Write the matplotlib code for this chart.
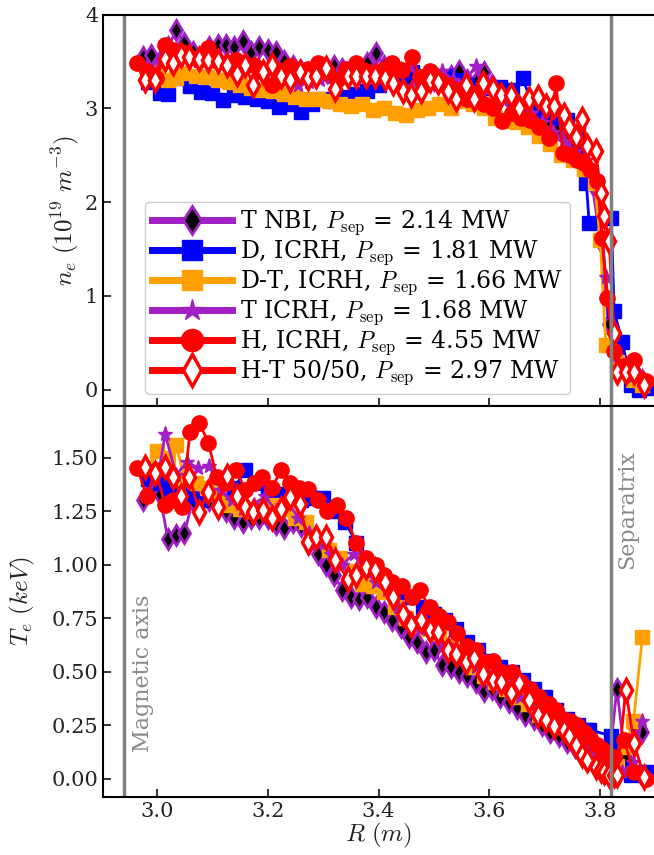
import matplotlib
matplotlib.use('Agg')
import matplotlib.pyplot as plt

plt.rcParams['font.family'] = 'DejaVu Serif'
plt.rcParams['mathtext.fontset'] = 'cm'

# T NBI
r_tnbi = [2.975, 2.99, 3.005, 3.02, 3.035, 3.05, 3.065, 3.08, 3.095, 3.11, 3.125, 3.14, 3.155, 3.17,
          3.185, 3.20, 3.215, 3.23, 3.245, 3.26, 3.275, 3.29, 3.305, 3.32, 3.335, 3.35, 3.365, 3.38,
          3.395, 3.41, 3.425, 3.44, 3.455, 3.47, 3.485, 3.50, 3.515, 3.53, 3.545, 3.56, 3.575, 3.59,
          3.605, 3.62, 3.635, 3.65, 3.665, 3.68, 3.695, 3.71, 3.725, 3.74, 3.755, 3.77, 3.785, 3.80,
          3.815, 3.83, 3.845, 3.86, 3.875]
ne_tnbi = [3.55, 3.57, 3.50, 3.65, 3.83, 3.70, 3.60, 3.55, 3.65, 3.68, 3.67, 3.65, 3.72, 3.60, 3.65,
           3.62, 3.60, 3.50, 3.45, 3.40, 3.35, 3.38, 3.40, 3.45, 3.42, 3.40, 3.38, 3.48, 3.59, 3.45,
           3.40, 3.38, 3.35, 3.32, 3.35, 3.30, 3.30, 3.35, 3.40, 3.30, 3.28, 3.39, 3.25, 3.15, 3.10,
           3.05, 3.00, 2.95, 2.90, 2.85, 2.80, 2.70, 2.60, 2.45, 2.20, 1.60, 0.70, 0.40, 0.25, 0.15, 0.10]
te_tnbi = [1.30, 1.35, 1.33, 1.12, 1.14, 1.15, 1.30, 1.32, 1.30, 1.28, 1.25, 1.22, 1.20, 1.22, 1.22,
           1.22, 1.19, 1.17, 1.20, 1.18, 1.10, 1.05, 1.00, 0.95, 0.88, 0.85, 0.84, 0.85, 0.80, 0.78,
           0.74, 0.71, 0.66, 0.64, 0.59, 0.60, 0.53, 0.52, 0.50, 0.48, 0.45, 0.41, 0.42, 0.38, 0.36,
           0.33, 0.30, 0.28, 0.25, 0.22, 0.20, 0.17, 0.15, 0.12, 0.10, 0.07, 0.05, 0.42, 0.10, 0.25, 0.22]

# D, ICRH
r_d = [2.985, 3.005, 3.02, 3.04, 3.06, 3.08, 3.10, 3.12, 3.14, 3.16, 3.18, 3.20, 3.22, 3.24, 3.26,
       3.28, 3.30, 3.32, 3.34, 3.36, 3.38, 3.40, 3.42, 3.44, 3.46, 3.48, 3.50, 3.52, 3.54, 3.56,
       3.58, 3.60, 3.62, 3.64, 3.66, 3.68, 3.70, 3.72, 3.74, 3.76, 3.775, 3.78, 3.82, 3.825, 3.84,
       3.855, 3.87, 3.885]
ne_d = [3.28, 3.16, 3.15, 3.32, 3.24, 3.17, 3.16, 3.09, 3.14, 3.12, 3.10, 3.08, 3.01, 3.05, 2.96,
        3.05, 3.10, 3.08, 3.12, 3.15, 3.18, 3.25, 3.30, 3.35, 3.39, 3.33, 3.30, 3.35, 3.30, 3.25,
        3.20, 3.22, 3.23, 3.20, 3.32, 3.00, 2.95, 2.90, 2.88, 2.75, 2.20, 1.78, 1.83, 0.84, 0.51,
        0.05, 0.00, 0.02]
te_d = [1.40, 1.38, 1.36, 1.33, 1.32, 1.30, 1.33, 1.30, 1.36, 1.44, 1.38, 1.35, 1.33, 1.32, 1.30,
        1.31, 1.31, 1.25, 1.20, 1.10, 1.00, 0.95, 0.90, 0.87, 0.85, 0.80, 0.77, 0.74, 0.70, 0.64,
        0.60, 0.55, 0.52, 0.50, 0.46, 0.42, 0.38, 0.32, 0.28, 0.25, 0.23, 0.23, 0.20, 0.15, 0.05,
        0.02, 0.03, 0.03]

# D-T, ICRH
r_dt = [2.985, 3.00, 3.02, 3.035, 3.05, 3.07, 3.09, 3.11, 3.13, 3.15, 3.17, 3.19, 3.21, 3.23, 3.25,
        3.27, 3.29, 3.31, 3.33, 3.35, 3.37, 3.39, 3.41, 3.43, 3.45, 3.47, 3.49, 3.51, 3.53, 3.55,
        3.57, 3.59, 3.61, 3.63, 3.65, 3.67, 3.69, 3.71, 3.73, 3.75, 3.77, 3.79, 3.80, 3.81, 3.83,
        3.845, 3.86, 3.876]
ne_dt = [3.35, 3.40, 3.30, 3.32, 3.38, 3.35, 3.33, 3.30, 3.28, 3.25, 3.22, 3.20, 3.18, 3.15, 3.12,
         3.10, 3.10, 3.08, 3.05, 3.02, 3.05, 2.98, 3.00, 2.95, 2.93, 2.98, 3.00, 3.05, 3.00, 3.08,
         3.05, 3.00, 2.90, 2.87, 2.85, 2.80, 2.70, 2.62, 2.50, 2.45, 2.35, 2.20, 1.60, 0.48, 0.30,
         0.20, 0.10, 0.05]
te_dt = [1.45, 1.53, 1.50, 1.56, 1.40, 1.38, 1.36, 1.33, 1.28, 1.26, 1.25, 1.27, 1.28, 1.26, 1.22,
         1.20, 1.12, 1.07, 1.03, 0.97, 0.91, 0.90, 0.87, 0.80, 0.75, 0.72, 0.70, 0.68, 0.62, 0.58,
         0.52, 0.48, 0.45, 0.42, 0.38, 0.35, 0.30, 0.27, 0.24, 0.20, 0.15, 0.10, 0.07, 0.04, 0.06,
         0.15, 0.27, 0.66]

# T ICRH
r_ticrh = [2.985, 3.005, 3.015, 3.035, 3.055, 3.075, 3.095, 3.115, 3.135, 3.155, 3.175, 3.195, 3.215,
           3.235, 3.255, 3.275, 3.295, 3.315, 3.335, 3.355, 3.375, 3.395, 3.415, 3.435, 3.455, 3.475,
           3.495, 3.515, 3.535, 3.555, 3.575, 3.595, 3.615, 3.635, 3.655, 3.675, 3.695, 3.715, 3.735,
           3.755, 3.775, 3.795, 3.81, 3.825, 3.84, 3.86, 3.875]
ne_ticrh = [3.45, 3.50, 3.55, 3.60, 3.55, 3.50, 3.58, 3.52, 3.50, 3.48, 3.45, 3.40, 3.35, 3.30, 3.25,
            3.28, 3.30, 3.32, 3.35, 3.38, 3.35, 3.40, 3.42, 3.40, 3.45, 3.35, 3.38, 3.40, 3.30, 3.28,
            3.45, 3.20, 3.15, 3.10, 3.05, 2.95, 2.85, 2.75, 2.65, 2.55, 2.45, 2.25, 1.20, 0.35, 0.20,
            0.15, 0.10]
te_ticrh = [1.32, 1.45, 1.61, 1.42, 1.48, 1.45, 1.46, 1.35, 1.30, 1.26, 1.28, 1.32, 1.25, 1.30, 1.22,
            1.15, 1.10, 1.05, 1.00, 1.05, 0.97, 0.92, 0.88, 0.80, 0.75, 0.70, 0.68, 0.62, 0.60, 0.57,
            0.52, 0.50, 0.46, 0.43, 0.38, 0.34, 0.30, 0.27, 0.23, 0.19, 0.15, 0.10, 0.06, 0.04, 0.03,
            0.08, 0.27]

# H, ICRH
r_h = [2.965, 2.982, 2.998, 3.015, 3.03, 3.045, 3.06, 3.077, 3.093, 3.108, 3.125, 3.143, 3.16, 3.175,
       3.19, 3.207, 3.225, 3.24, 3.257, 3.273, 3.29, 3.307, 3.325, 3.342, 3.36, 3.378, 3.395, 3.41,
       3.425, 3.443, 3.46, 3.475, 3.492, 3.51, 3.525, 3.542, 3.56, 3.575, 3.59, 3.607, 3.623, 3.64,
       3.657, 3.673, 3.69, 3.708, 3.72, 3.733, 3.745, 3.758, 3.77, 3.782, 3.795, 3.803, 3.813, 3.825,
       3.843, 3.861, 3.883]
ne_h = [3.48, 3.40, 3.32, 3.68, 3.62, 3.60, 3.55, 3.52, 3.64, 3.50, 3.48, 3.52, 3.45, 3.46, 3.40,
        3.25, 3.40, 3.45, 3.38, 3.42, 3.48, 3.40, 3.30, 3.42, 3.48, 3.40, 3.38, 3.42, 3.48, 3.41,
        3.55, 3.33, 3.40, 3.30, 3.25, 3.20, 3.10, 3.15, 3.05, 3.00, 2.87, 2.95, 2.90, 2.88, 2.80,
        2.68, 3.27, 2.52, 2.50, 2.45, 2.42, 2.34, 2.23, 1.62, 0.98, 0.41, 0.25, 0.32, 0.09]
te_h = [1.45, 1.32, 1.44, 1.28, 1.30, 1.27, 1.62, 1.66, 1.57, 1.41, 1.38, 1.44, 1.35, 1.38, 1.41,
        1.36, 1.44, 1.38, 1.36, 1.355, 1.30, 1.25, 1.28, 1.22, 1.10, 1.03, 1.00, 0.95, 0.92, 0.90,
        0.85, 0.88, 0.80, 0.76, 0.73, 0.68, 0.62, 0.60, 0.545, 0.55, 0.50, 0.50, 0.45, 0.42, 0.38,
        0.35, 0.32, 0.28, 0.27, 0.25, 0.22, 0.19, 0.16, 0.14, 0.12, 0.10, 0.18, 0.03, 0.00]

# H-T 50/50
r_ht = [2.978, 2.996, 3.014, 3.029, 3.044, 3.059, 3.077, 3.092, 3.11, 3.126, 3.144, 3.159, 3.174,
        3.192, 3.207, 3.225, 3.24, 3.258, 3.273, 3.288, 3.306, 3.321, 3.345, 3.36, 3.378, 3.393,
        3.411, 3.426, 3.444, 3.459, 3.477, 3.492, 3.507, 3.525, 3.540, 3.558, 3.573, 3.588, 3.606,
        3.621, 3.639, 3.654, 3.672, 3.687, 3.702, 3.717, 3.735, 3.744, 3.756, 3.768, 3.777, 3.792,
        3.801, 3.807, 3.816, 3.825, 3.831, 3.846, 3.861, 3.879]
ne_ht = [3.30, 3.30, 3.53, 3.48, 3.57, 3.55, 3.53, 3.52, 3.50, 3.46, 3.37, 3.46, 3.25, 3.39, 3.46,
         3.34, 3.30, 3.39, 3.32, 3.34, 3.43, 3.21, 3.35, 3.34, 3.35, 3.34, 3.32, 3.27, 3.18, 3.14,
         3.18, 3.30, 3.28, 3.18, 3.10, 3.25, 3.10, 3.27, 3.21, 3.14, 3.14, 3.00, 3.10, 3.12, 3.02,
         3.03, 2.93, 2.80, 2.69, 2.89, 2.60, 2.55, 2.10, 1.85, 1.59, 0.60, 0.19, 0.19, 0.19, 0.05]
te_ht = [1.455, 1.43, 1.455, 1.41, 1.32, 1.41, 1.245, 1.34, 1.27, 1.416, 1.32, 1.27, 1.245, 1.253,
         1.22, 1.26, 1.315, 1.284, 1.105, 1.13, 1.13, 1.02, 0.935, 0.95, 0.99, 0.973, 0.92, 0.85,
         0.77, 0.717, 0.74, 0.694, 0.686, 0.60, 0.585, 0.546, 0.562, 0.49, 0.46, 0.453, 0.40, 0.446,
         0.37, 0.30, 0.275, 0.245, 0.23, 0.20, 0.16, 0.11, 0.09, 0.057, 0.04, 0.03, 0.02, 0.02, 0.02,
         0.415, 0.166, 0.01]

labels = ['T NBI, $P_{\\rm sep}$ = 2.14 MW',
          'D, ICRH, $P_{\\rm sep}$ = 1.81 MW',
          'D-T, ICRH, $P_{\\rm sep}$ = 1.66 MW',
          'T ICRH, $P_{\\rm sep}$ = 1.68 MW',
          'H, ICRH, $P_{\\rm sep}$ = 4.55 MW',
          'H-T 50/50, $P_{\\rm sep}$ = 2.97 MW']

r_axis = 2.94
r_sep = 3.82

purple = '#a21fc6'
styles = [
    dict(color=purple, marker='d', mfc='black', mec=purple, mew=2, ms=10),
    dict(color='#0000ff', marker='s', mfc='#0000ff', mec='#0000ff', ms=10),
    dict(color='#ffa000', marker='s', mfc='#ffa000', mec='#ffa000', ms=10),
    dict(color=purple, marker='*', mfc=purple, mec=purple, ms=11),
    dict(color='#ff0000', marker='o', mfc='#ff0000', mec='#ff0000', ms=11),
    dict(color='#ff0000', marker='d', mfc='white', mec='#ff0000', mew=2.5, ms=11),
]
series = [(r_tnbi, ne_tnbi, te_tnbi), (r_d, ne_d, te_d), (r_dt, ne_dt, te_dt),
          (r_ticrh, ne_ticrh, te_ticrh), (r_h, ne_h, te_h), (r_ht, ne_ht, te_ht)]

fig, (ax1, ax2) = plt.subplots(2, 1, figsize=(6.54, 8.55), dpi=100, sharex=True)
fig.subplots_adjust(left=0.1575, right=1.0, top=0.983, bottom=0.068, hspace=0)

for (r, ne, te), st, lab in zip(series, styles, labels):
    ax1.plot(r, ne, lw=2, label=lab, **st)
    ax2.plot(r, te, lw=2, **st)

for ax in (ax1, ax2):
    ax.axvline(r_axis, color='gray', lw=2.5)
    ax.axvline(r_sep, color='gray', lw=2.5)
    ax.tick_params(direction='in', length=6, width=1.3, labelsize=15, colors='#222222')
    for s in ax.spines.values():
        s.set_linewidth(1.5)
    ax.spines['right'].set_visible(False)

ax1.set_xlim(2.903, 3.897)
ax1.set_ylim(-0.17, 4.0)
ax1.set_yticks([0, 1, 2, 3, 4])
ax2.set_ylim(-0.084, 1.742)
ax2.set_yticks([0.0, 0.25, 0.5, 0.75, 1.0, 1.25, 1.5])
ax2.set_yticklabels(['0.00', '0.25', '0.50', '0.75', '1.00', '1.25', '1.50'])
ax2.set_xticks([3.0, 3.2, 3.4, 3.6, 3.8])

ax1.set_ylabel('$n_e\\ (10^{19}\\ m^{-3})$', fontsize=18, color='#222222')
ax2.set_ylabel('$T_e\\ (keV)$', fontsize=18, color='#222222')
ax2.set_xlabel('$R\\ (m)$', fontsize=18, color='#222222', labelpad=0)
ax1.yaxis.set_label_coords(-0.04, 0.5)
ax2.yaxis.set_label_coords(-0.12, 0.5)

ax2.text(r_axis + 0.0145, 0.126, 'Magnetic axis', rotation=90, color='#8a8a8a',
         fontsize=16, ha='left', va='bottom')
ax2.text(r_sep + 0.009, 1.535, 'Separatrix', rotation=90, color='#8a8a8a',
         fontsize=16, ha='left', va='top')

leg = ax1.legend(loc='lower left', bbox_to_anchor=(0.055, 0.0), fontsize=17,
                 handlelength=3.4, handletextpad=0.3, labelspacing=0.06,
                 borderpad=0.3, markerscale=1.45, framealpha=1, edgecolor='#cccccc')
for h in leg.legend_handles:
    h.set_linewidth(5)

fig.savefig('out.png', dpi=100)
